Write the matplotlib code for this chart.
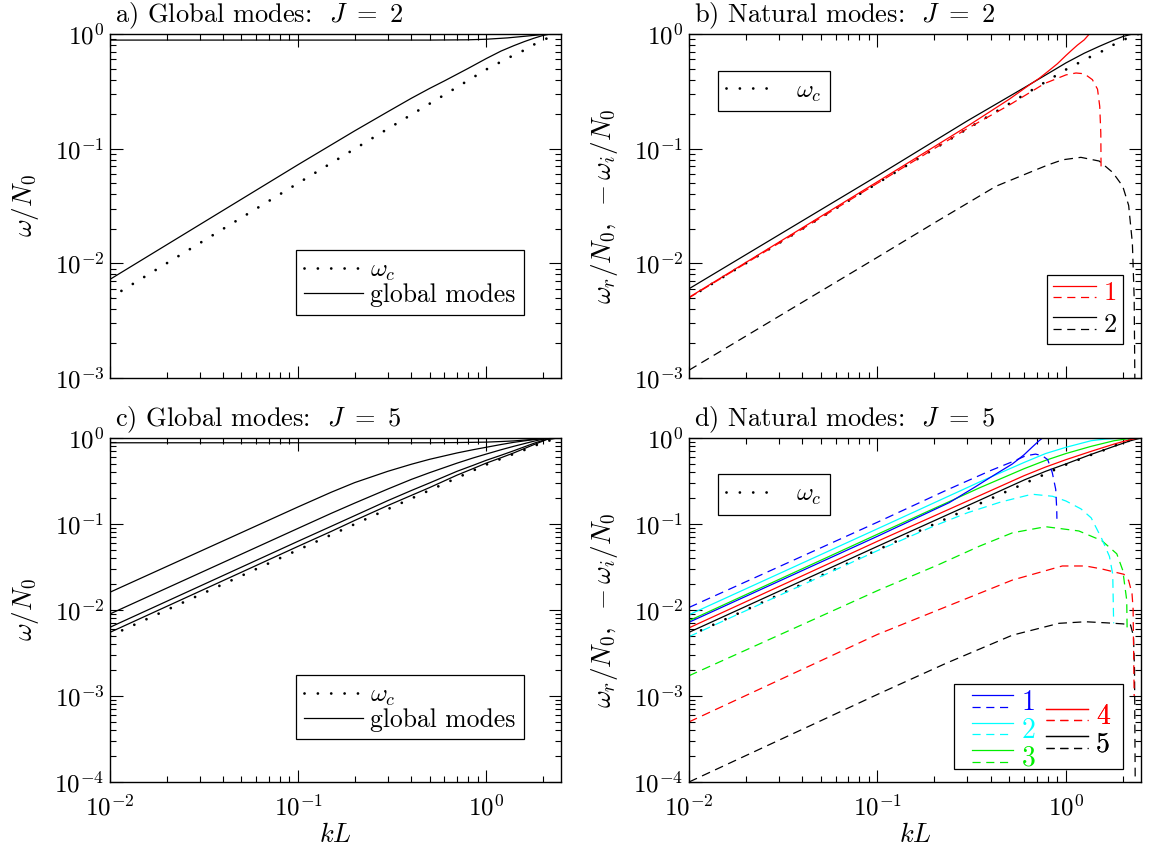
import matplotlib
matplotlib.use("Agg")
import matplotlib.pyplot as plt
import numpy as np
from matplotlib.lines import Line2D
from matplotlib.patches import Rectangle
from matplotlib.legend_handler import HandlerBase
from matplotlib.ticker import LogLocator, NullFormatter

plt.rcParams['font.family'] = 'serif'
plt.rcParams['font.serif'] = ['cmr10']
plt.rcParams['mathtext.fontset'] = 'cm'
plt.rcParams['axes.formatter.use_mathtext'] = True
plt.rcParams['font.size'] = 18

# critical frequency (same curve in every panel)
kl_wc = [0.01, 0.03, 0.1, 0.3, 0.6, 1.0, 1.34, 1.55, 1.79, 2.07, 2.3, 2.5]
w_c = [0.0050, 0.0150, 0.050, 0.149, 0.295, 0.49, 0.63, 0.706, 0.807, 0.905, 0.97, 1.02]

# a) global modes, J = 2
kl_a_top = [0.01, 0.5, 0.8, 1.0, 1.3, 1.6, 2.0, 2.2, 2.5]
a_top = [0.885, 0.885, 0.89, 0.90, 0.925, 0.955, 0.99, 1.0, 1.01]
kl_a_low = [0.01, 0.1, 0.2, 0.3, 0.4, 0.5, 0.6, 0.8, 1.0, 1.2, 1.4, 1.6, 1.8, 2.0, 2.2, 2.5]
a_low = [0.00725, 0.0725, 0.143, 0.21, 0.275, 0.335, 0.39, 0.50, 0.61, 0.71, 0.79, 0.86,
         0.92, 0.97, 1.0, 1.02]

# b) natural modes, J = 2  (r = omega_r, i = -omega_i)
kl_b1r = [0.01, 0.1, 0.3, 0.5, 0.64, 0.72, 0.8, 0.9, 1.0, 1.08, 1.15, 1.25, 1.33, 1.45]
b1r = [0.00505, 0.0515, 0.157, 0.27, 0.36, 0.41, 0.47, 0.55, 0.65, 0.73, 0.80, 0.89, 1.0, 1.15]
kl_b1i = [0.01, 0.1, 0.3, 0.5, 0.77, 1.0, 1.13, 1.25, 1.38, 1.47, 1.51, 1.53, 1.535]
b1i = [0.0050, 0.050, 0.150, 0.24, 0.37, 0.44, 0.457, 0.45, 0.40, 0.33, 0.234, 0.137, 0.068]
kl_b2r = [0.01, 0.1, 0.3, 0.6, 0.8, 1.0, 1.25, 1.5, 1.75, 2.0, 2.25, 2.5]
b2r = [0.0060, 0.058, 0.175, 0.34, 0.45, 0.56, 0.68, 0.78, 0.87, 0.95, 1.0, 1.04]
kl_b2i = [0.01, 0.1, 0.2, 0.425, 0.64, 0.8, 0.96, 1.2, 1.5, 1.77, 2.0, 2.15, 2.25, 2.3, 2.32]
b2i = [0.00117, 0.0113, 0.0225, 0.047, 0.062, 0.072, 0.080, 0.084, 0.078, 0.062, 0.047,
       0.032, 0.015, 0.005, 0.0009]

# c) global modes, J = 5
kl_c = [0.01, 0.1, 0.15, 0.2, 0.3, 0.4, 0.5, 0.7, 0.85, 1.0, 1.2, 1.4, 1.8, 2.1, 2.5]
c_top = [0.88, 0.88, 0.88, 0.88, 0.88, 0.88, 0.88, 0.885, 0.89, 0.895, 0.91, 0.925, 0.965,
         0.995, 1.01]
c_1 = [0.0161, 0.158, 0.234, 0.303, 0.41, 0.495, 0.565, 0.67, 0.73, 0.78, 0.84, 0.89, 0.96,
       0.995, 1.01]
c_2 = [0.0090, 0.089, 0.133, 0.175, 0.255, 0.33, 0.395, 0.51, 0.585, 0.65, 0.73, 0.80, 0.92,
       0.99, 1.01]
c_3 = [0.0063, 0.063, 0.094, 0.125, 0.187, 0.245, 0.30, 0.41, 0.48, 0.55, 0.63, 0.71, 0.87,
       0.97, 1.01]
c_4 = [0.0055, 0.055, 0.082, 0.11, 0.164, 0.215, 0.265, 0.37, 0.44, 0.51, 0.59, 0.67, 0.84,
       0.96, 1.01]

# d) natural modes, J = 5
kl_d1r = [0.01, 0.1, 0.24, 0.33, 0.39, 0.44, 0.52, 0.6, 0.66, 0.72, 0.76, 0.8]
d1r = [0.0072, 0.072, 0.177, 0.27, 0.34, 0.40, 0.50, 0.64, 0.78, 0.93, 1.02, 1.1]
kl_d1i = [0.01, 0.1, 0.23, 0.4, 0.52, 0.61, 0.69, 0.75, 0.80, 0.846, 0.882, 0.893, 0.895]
d1i = [0.0107, 0.105, 0.245, 0.42, 0.53, 0.62, 0.65, 0.62, 0.56, 0.395, 0.253, 0.15, 0.115]
kl_d2r = [0.01, 0.1, 0.35, 0.6, 0.78, 1.0, 1.36, 1.6, 1.85, 2.2, 2.5]
d2r = [0.0088, 0.088, 0.31, 0.52, 0.66, 0.78, 0.93, 0.97, 0.99, 1.0, 1.01]
kl_d2i = [0.01, 0.1, 0.2, 0.3, 0.45, 0.66, 0.85, 1.0, 1.2, 1.36, 1.55, 1.7, 1.77, 1.79]
d2i = [0.0049, 0.049, 0.095, 0.135, 0.18, 0.222, 0.21, 0.185, 0.15, 0.118, 0.067, 0.042,
       0.026, 0.007]
kl_d345r = [0.01, 0.1, 0.35, 0.6, 0.78, 1.0, 1.36, 1.8, 2.2, 2.5]
d3r = [0.0075, 0.076, 0.265, 0.44, 0.55, 0.66, 0.80, 0.93, 0.99, 1.01]
d4r = [0.0062, 0.063, 0.215, 0.365, 0.46, 0.56, 0.70, 0.85, 0.96, 1.01]
d5r = [0.0055, 0.055, 0.19, 0.325, 0.41, 0.50, 0.645, 0.80, 0.93, 1.0]
kl_d3i = [0.01, 0.1, 0.213, 0.346, 0.52, 0.78, 1.17, 1.55, 1.86, 2.0, 2.1, 2.11]
d3i = [0.00172, 0.0168, 0.034, 0.055, 0.079, 0.093, 0.083, 0.064, 0.045, 0.029, 0.013, 0.006]
kl_d4i = [0.01, 0.1, 0.231, 0.52, 0.956, 1.27, 1.55, 2.03, 2.15, 2.24, 2.27, 2.3]
d4i = [0.0005, 0.0052, 0.0109, 0.0223, 0.0325, 0.0325, 0.030, 0.026, 0.022, 0.0155, 0.0103, 0.001]
kl_d5i = [0.01, 0.1025, 0.231, 0.52, 0.918, 1.27, 1.62, 2.0, 2.2, 2.28, 2.31, 2.33]
d5i = [0.0001, 0.00107, 0.0024, 0.0051, 0.0070, 0.0073, 0.0071, 0.0069, 0.0067, 0.005, 0.002,
       0.00009]

mode_colors = ['#0000ff', '#00ffff', '#00ee00', '#ff0000', 'k']
mode_labels = ['1', '2', '3', '4', '5']

LW = 0.9
DASH = (0, (7, 4.5))
DOTS = dict(color='k', lw=2.0, ls=(0, (0.01, 4.8)), dash_capstyle='round')


class ModePair:
    def __init__(self, color):
        self.color = color


class PairHandler(HandlerBase):
    # solid line stacked above a dashed line, both in the mode colour
    def create_artists(self, legend, orig_handle, xdescent, ydescent,
                       width, height, fontsize, trans):
        x = [-xdescent, width - xdescent]
        yc = 0.5 * height - ydescent
        y_top = yc + 0.2 * fontsize
        y_bot = yc - 0.22 * fontsize
        top = Line2D(x, [y_top, y_top], color=orig_handle.color, lw=LW)
        bot = Line2D(x, [y_bot, y_bot], color=orig_handle.color, lw=LW, ls=(0, (6.5, 4.5)))
        top.set_transform(trans)
        bot.set_transform(trans)
        return [top, bot]


def style_axes(ax, ymin, xlabels):
    ax.set_xscale('log')
    ax.set_yscale('log')
    ax.set_xlim(0.01, 2.5)
    ax.set_ylim(ymin, 1)
    for axis in (ax.xaxis, ax.yaxis):
        axis.set_major_locator(LogLocator(base=10, numticks=12))
        axis.set_minor_locator(LogLocator(base=10, subs=np.arange(2, 10), numticks=12))
        axis.set_minor_formatter(NullFormatter())
    ax.tick_params(which='both', direction='in', top=True, right=True, width=0.8)
    ax.tick_params(which='major', length=9)
    ax.tick_params(which='minor', length=4.5)
    ax.tick_params(axis='y', pad=4)
    ax.tick_params(axis='x', pad=9)
    if not xlabels:
        ax.tick_params(labelbottom=False)
    else:
        ax.set_xlabel('$kL$', fontsize=19)
        ax.xaxis.set_label_coords(0.5, -0.12)
    for s in ax.spines.values():
        s.set_linewidth(1.0)


def legend_box(ax, handles, labels, anchor, loc, **kw):
    opts = dict(fancybox=False, edgecolor='k', framealpha=1, fontsize=18.5,
                handlelength=2.3, borderpad=0.3, labelspacing=0.0, handletextpad=0.3)
    opts.update(kw)
    leg = ax.legend(handles, labels, loc=loc, bbox_to_anchor=anchor, borderaxespad=0, **opts)
    leg.get_frame().set_linewidth(0.9)
    return leg


fig = plt.figure(figsize=(11.49, 8.5), dpi=100)
W, H = 1149.0, 850.0
ax_a = fig.add_axes([110 / W, (H - 378) / H, 451 / W, 344 / H])
ax_b = fig.add_axes([689 / W, (H - 378) / H, 452 / W, 344 / H])
ax_c = fig.add_axes([110 / W, (H - 782) / H, 451 / W, 344 / H])
ax_d = fig.add_axes([689 / W, (H - 782) / H, 452 / W, 344 / H])

titles = ['a) Global modes:  $J\\ =\\ 2$', 'b) Natural modes:  $J\\ =\\ 2$',
          'c) Global modes:  $J\\ =\\ 5$', 'd) Natural modes:  $J\\ =\\ 5$']
for ax, t in zip([ax_a, ax_b, ax_c, ax_d], titles):
    ax.text(0.012, 1.01, t, transform=ax.transAxes, va='bottom', fontsize=19)

# a) global modes J=2
style_axes(ax_a, 1e-3, False)
wc_a, = ax_a.plot(kl_wc, w_c, **DOTS)
gm_a, = ax_a.plot(kl_a_top, a_top, 'k-', lw=LW)
ax_a.plot(kl_a_low, a_low, 'k-', lw=LW)
legend_box(ax_a, [wc_a, gm_a], [r'$\omega_c$', 'global modes'], (0.917, 0.184), 'lower right')

# b) natural modes J=2
style_axes(ax_b, 1e-3, False)
wc_b, = ax_b.plot(kl_wc, w_c, **DOTS)
ax_b.plot(kl_b2r, b2r, color='k', lw=LW)
ax_b.plot(kl_b2i, b2i, color='k', lw=LW, ls=DASH)
ax_b.plot(kl_b1r, b1r, color='r', lw=LW)
ax_b.plot(kl_b1i, b1i, color='r', lw=LW, ls=DASH)
leg = legend_box(ax_b, [wc_b], [r'$\omega_c$'], (0.064, 0.893), 'upper left',
                 handlelength=1.9, handletextpad=0.85, borderpad=0.3)
ax_b.add_artist(leg)
leg = legend_box(ax_b, [ModePair('r'), ModePair('k')], ['1', '2'], (0.961, 0.10), 'lower right',
                 handler_map={ModePair: PairHandler()}, fontsize=19, handlelength=1.6,
                 handletextpad=0.3, labelspacing=0.3, borderpad=0.25)
for txt, col in zip(leg.get_texts(), ['r', 'k']):
    txt.set_color(col)

# c) global modes J=5
style_axes(ax_c, 1e-4, True)
wc_c, = ax_c.plot(kl_wc, w_c, **DOTS)
gm_c, = ax_c.plot(kl_c, c_top, 'k-', lw=LW)
for vals in (c_1, c_2, c_3, c_4):
    ax_c.plot(kl_c, vals, 'k-', lw=LW)
legend_box(ax_c, [wc_c, gm_c], [r'$\omega_c$', 'global modes'], (0.917, 0.124), 'lower right')

# d) natural modes J=5
style_axes(ax_d, 1e-4, True)
wc_d, = ax_d.plot(kl_wc, w_c, **DOTS)
d_real = [(kl_d1r, d1r), (kl_d2r, d2r), (kl_d345r, d3r), (kl_d345r, d4r), (kl_d345r, d5r)]
d_imag = [(kl_d1i, d1i), (kl_d2i, d2i), (kl_d3i, d3i), (kl_d4i, d4i), (kl_d5i, d5i)]
for j in range(4, -1, -1):
    ax_d.plot(*d_real[j], color=mode_colors[j], lw=LW)
    ax_d.plot(*d_imag[j], color=mode_colors[j], lw=LW, ls=DASH)
leg = legend_box(ax_d, [wc_d], [r'$\omega_c$'], (0.064, 0.895), 'upper left',
                 handlelength=1.9, handletextpad=0.85, borderpad=0.3)
ax_d.add_artist(leg)

# mode key: two frameless columns inside one box, second column offset by half a row
ax_d.add_patch(Rectangle((0.586, 0.037), 0.375, 0.249, transform=ax_d.transAxes,
                         facecolor='white', edgecolor='k', lw=0.9, zorder=5))
col_opts = dict(frameon=False, handler_map={ModePair: PairHandler()}, fontsize=20,
                handlelength=1.5, handletextpad=0.3, labelspacing=0.05, borderpad=0.0)
for idx, anchor in (([0, 1, 2], (0.625, 0.268)), ([3, 4], (0.79, 0.228))):
    leg = ax_d.legend([ModePair(mode_colors[i]) for i in idx], [mode_labels[i] for i in idx],
                      loc='upper left', bbox_to_anchor=anchor, borderaxespad=0, **col_opts)
    leg.set_zorder(6)
    for txt, i in zip(leg.get_texts(), idx):
        txt.set_color(mode_colors[i])
    ax_d.add_artist(leg)

for ax in (ax_a, ax_c):
    ax.set_ylabel(r'$\omega/N_0$', fontsize=19.5)
for ax in (ax_b, ax_d):
    ax.set_ylabel(r'$\omega_r/N_0,\ -\omega_i/N_0$', fontsize=19.5)
for ax in (ax_a, ax_b, ax_c, ax_d):
    ax.yaxis.set_label_coords(-0.152, 0.5)

fig.savefig('out.png', dpi=100)
